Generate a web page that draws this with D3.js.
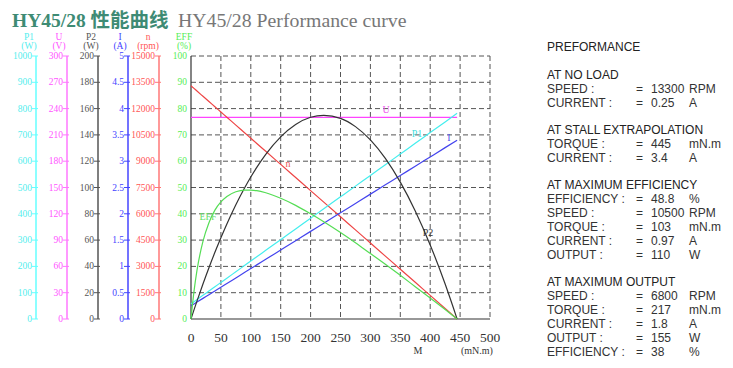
<!DOCTYPE html>
<html><head><meta charset="utf-8">
<script src="https://cdn.jsdelivr.net/npm/d3@7"></script>
<style>body{margin:0;background:#fff;} svg{display:block;}</style>
</head><body>
<script>
// ---- data ----
const torque  = [0,5,10,20,30,40,50,60,75,90,100,110,125,150,175,200,222,250,275,300,325,350,375,400,425,445];
const speed   = [13300,13151,13001,12702,12403,12105,11806,11507,11058,10610,10311,10012,9564,8817,8070,7323,6665,5828,5081,4334,3587,2839,2092,1345,598,0];
const current = [0.25,0.285,0.321,0.392,0.462,0.533,0.604,0.675,0.781,0.887,0.958,1.029,1.135,1.312,1.489,1.666,1.821,2.020,2.197,2.374,2.551,2.728,2.904,3.081,3.258,3.4];
const inputP  = [57.5,65.6,73.8,90.1,106.3,122.6,138.9,155.2,179.6,204.0,220.3,236.6,261.0,301.7,342.4,383.1,418.9,464.5,505.2,545.9,586.6,627.3,668.0,708.7,749.4,782];
const outputP = [0,6.9,13.6,26.6,39.0,50.7,61.8,72.3,86.9,100.0,108.0,115.3,125.2,138.5,147.9,153.4,154.9,152.6,146.3,136.2,122.1,104.1,82.2,56.3,26.6,0];
const eff     = [0,10.5,18.5,29.5,36.6,41.4,44.5,46.6,48.4,49.0,49.0,48.8,48.0,45.9,43.2,40.0,37.0,32.9,29.0,24.9,20.8,16.6,12.3,8.0,3.6,0];
const voltTorque = [0,445];
const voltage = [230,230];

const xTicks = [0,50,100,150,200,250,300,350,400,450,500];
const p1Ticks = [0,100,200,300,400,500,600,700,800,900,1000];
const uTicks = [0,30,60,90,120,150,180,210,240,270,300];
const p2Ticks = [0,20,40,60,80,100,120,140,160,180,200];
const iTicks = ["0","0.5","1","1.5","2","2.5","3","3.5","4","4.5","5"];
const nTicks = [0,1500,3000,4500,6000,7500,9000,10500,12000,13500,15000];
const effTicks = [0,10,20,30,40,50,60,70,80,90,100];

const specGroups = [
  {head:"AT NO LOAD", rows:[["SPEED :","13300","RPM"],["CURRENT :","0.25","A"]]},
  {head:"AT STALL EXTRAPOLATION", rows:[["TORQUE :","445","mN.m"],["CURRENT :","3.4","A"]]},
  {head:"AT MAXIMUM EFFICIENCY", rows:[["EFFICIENCY :","48.8","%"],["SPEED :","10500","RPM"],["TORQUE :","103","mN.m"],["CURRENT :","0.97","A"],["OUTPUT :","110","W"]]},
  {head:"AT MAXIMUM OUTPUT", rows:[["SPEED :","6800","RPM"],["TORQUE :","217","mN.m"],["CURRENT :","1.8","A"],["OUTPUT :","155","W"],["EFFICIENCY :","38","%"]]}
];

(function(){
const W=733,H=368;
const svg=d3.select("body").append("svg").attr("width",W).attr("height",H);
const serif="'Liberation Serif','DejaVu Serif',serif";
const sans="'Liberation Sans',Arial,sans-serif";

// title
const t=svg.append("text").attr("x",12).attr("y",27).attr("font-size",19.5);
t.append("tspan").attr("font-family",serif).attr("font-weight","bold").attr("fill","#3e8b74").text("HY45/28 ");
t.append("tspan").attr("font-family","'Noto Sans CJK SC'").attr("font-weight","bold").attr("fill","#3e8b74").text("性能曲线");
svg.append("text").attr("x",178).attr("y",27).attr("font-size",19.8).attr("font-family",serif).attr("fill","#777").text("HY45/28 Performance curve");

const pTop=56,pBot=319,pLeft=191,pRight=490;
const x=d3.scaleLinear().domain([0,500]).range([pLeft,pRight]);
const yE=d3.scaleLinear().domain([0,100]).range([pBot,pTop]);
const yN=d3.scaleLinear().domain([0,15000]).range([pBot,pTop]);
const yI=d3.scaleLinear().domain([0,5]).range([pBot,pTop]);
const yP1=d3.scaleLinear().domain([0,1000]).range([pBot,pTop]);
const yP2=d3.scaleLinear().domain([0,200]).range([pBot,pTop]);
const yU=d3.scaleLinear().domain([0,300]).range([pBot,pTop]);

// grid
const g=svg.append("g");
xTicks.forEach(v=>{ if(v>0) g.append("line").attr("x1",x(v)).attr("x2",x(v)).attr("y1",pTop).attr("y2",pBot)
  .attr("stroke","#555").attr("stroke-dasharray","5,3"); });
effTicks.forEach(v=>{ if(v>0) g.append("line").attr("x1",pLeft).attr("x2",pRight).attr("y1",yE(v)).attr("y2",yE(v))
  .attr("stroke","#555").attr("stroke-dasharray","5,3"); });
g.append("line").attr("x1",pLeft).attr("x2",pLeft).attr("y1",pTop).attr("y2",pBot).attr("stroke","#333").attr("stroke-width",1.2);
g.append("line").attr("x1",pLeft).attr("x2",pRight).attr("y1",pBot).attr("y2",pBot).attr("stroke","#333").attr("stroke-width",1.2);

// x tick labels
svg.append("g").selectAll("text").data(xTicks).join("text")
  .attr("x",d=>x(d)).attr("y",342).attr("text-anchor","middle").attr("font-family",serif).attr("font-size",13.5).attr("fill","#333").text(d=>d);
svg.append("text").attr("x",418).attr("y",354).attr("text-anchor","middle").attr("font-family",serif).attr("font-size",10).attr("fill","#333").text("M");
svg.append("text").attr("x",477).attr("y",354).attr("text-anchor","middle").attr("font-family",serif).attr("font-size",10).attr("fill","#333").text("(mN.m)");

// left axes
const axesDef=[
  {ax:36,scale:yP1,ticks:p1Ticks,name:"P1",unit:"(W)",line:"#66ffff",txt:"#55eeee",hx:29},
  {ax:67,scale:yU,ticks:uTicks,name:"U",unit:"(V)",line:"#ff77ff",txt:"#ff55ff",hx:59},
  {ax:98,scale:yP2,ticks:p2Ticks,name:"P2",unit:"(W)",line:"#555",txt:"#555",hx:91},
  {ax:128,scale:yI,ticks:iTicks,name:"I",unit:"(A)",line:"#4444ff",txt:"#4444ff",hx:120},
  {ax:159,scale:yN,ticks:nTicks,name:"n",unit:"(rpm)",line:"#ff7777",txt:"#ff5555",hx:148},
  {ax:pLeft,scale:yE,ticks:effTicks,name:"EFF",unit:"(%)",line:null,txt:"#55ee55",hx:184}
];
axesDef.forEach(a=>{
  const ga=svg.append("g");
  if(a.line){
    ga.append("line").attr("x1",a.ax).attr("x2",a.ax).attr("y1",pTop).attr("y2",pBot).attr("stroke",a.line).attr("stroke-width",1.5);
  }
  a.ticks.forEach(tk=>{
    const yy=a.scale(+tk);
    if(a.line) ga.append("line").attr("x1",a.ax-4).attr("x2",a.ax+2).attr("y1",yy).attr("y2",yy).attr("stroke",a.line);
    ga.append("text").attr("x",a.ax-4).attr("y",yy+3).attr("text-anchor","end")
      .attr("font-family",serif).attr("font-size",9.5).attr("fill",a.txt).text(tk);
  });
  ga.append("text").attr("x",a.hx).attr("y",40).attr("text-anchor","middle").attr("font-family",serif).attr("font-size",9.5).attr("fill",a.txt).text(a.name);
  ga.append("text").attr("x",a.hx).attr("y",49).attr("text-anchor","middle").attr("font-family",serif).attr("font-size",9.5).attr("fill",a.txt).text(a.unit);
});

// curves
function curve(xs,ys,scale,color){
  const pts=xs.map((v,i)=>[v,ys[i]]);
  svg.append("path").datum(pts).attr("fill","none").attr("stroke",color).attr("stroke-width",1.2)
    .attr("d",d3.line().x(d=>x(d[0])).y(d=>scale(d[1])).curve(d3.curveMonotoneX));
}
curve(voltTorque,voltage,yU,"#ff44ff");
curve(torque,speed,yN,"#ee4444");
curve(torque,inputP,yP1,"#44eeee");
curve(torque,current,yI,"#4444ee");
curve(torque,outputP,yP2,"#333");
curve(torque,eff,yE,"#55dd55");

// curve labels
const lab=[["n",288,167,"#ee5555"],["U",386,113,"#ee55ee"],["P1",417,137,"#44dddd"],["I",449,141,"#5555ee"],["EFF",208,220,"#66dd66"],["P2",428,236,"#333"]];
lab.forEach(l=>svg.append("text").attr("x",l[1]).attr("y",l[2]).attr("text-anchor","middle").attr("font-family",serif).attr("font-size",10).attr("fill",l[3]).text(l[0]));

// spec text
const st=svg.append("g").attr("font-family",sans).attr("font-size",12).attr("fill","#222");
st.append("text").attr("x",547).attr("y",51).text("PREFORMANCE");
let yy=79;
specGroups.forEach(gr=>{
  st.append("text").attr("x",547).attr("y",yy).text(gr.head);
  yy+=14;
  gr.rows.forEach(r=>{
    st.append("text").attr("x",547).attr("y",yy).attr("fill","#333").text(r[0]);
    st.append("text").attr("x",636).attr("y",yy).attr("fill","#333").text("=");
    st.append("text").attr("x",651).attr("y",yy).attr("fill","#333").text(r[1]);
    st.append("text").attr("x",689).attr("y",yy).attr("fill","#333").text(r[2]);
    yy+=14;
  });
  yy+=13;
});
})();
</script>
</body></html>
